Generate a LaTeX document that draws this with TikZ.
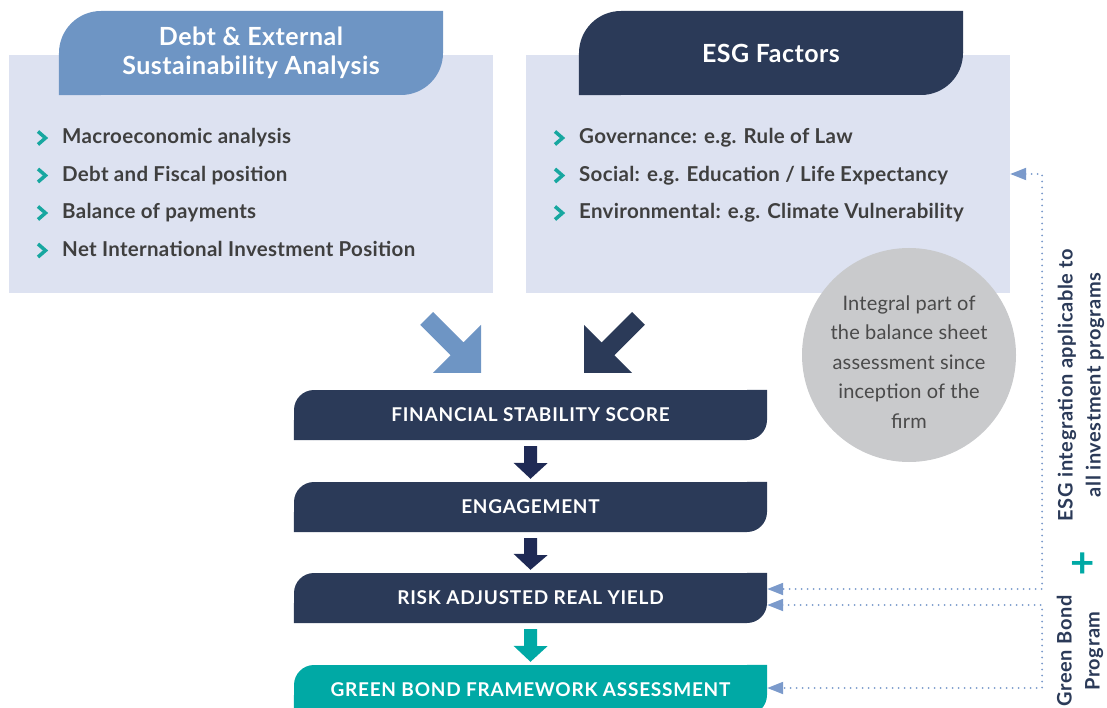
\documentclass[tikz,border=0pt]{standalone}
\usepackage{fontspec}
\setmainfont{Lato}
\usetikzlibrary{arrows.meta,calc}
\definecolor{panelblue}{HTML}{DDE2F1}
\definecolor{tabblue}{HTML}{6E95C4}
\definecolor{navy}{HTML}{2B3A58}
\definecolor{arrownavy}{HTML}{1F2A55}
\definecolor{teal}{HTML}{00A9A5}
\definecolor{chevteal}{HTML}{17A7A0}
\definecolor{circlegrey}{HTML}{C9CACC}
\definecolor{textgrey}{HTML}{3F3F3F}
\definecolor{notegrey}{HTML}{4A4A4A}
\definecolor{dotblue}{HTML}{7B9ACB}
% square off the top right and bottom left corners of a rounded node
\newcommand\sharpcorners[3]{\fill[#3] (#1.north east) rectangle ++(-#2,-#2) (#1.south west) rectangle ++(#2,#2);}
% block arrow from one stage to the next
\newcommand\flowarrow[3]{\fill[#3] ($(#1.south)+(-6.5,6)$) -- ++(13,0) -- ++(0,17) -- ++(10.5,0) -- ($(#2.north)+(0,-3)$) -- ++(-17,-16) -- ++(10.5,0) -- cycle;}
\begin{document}
\begin{tikzpicture}[x=1pt,y=-1pt,
  panel/.style={fill=panelblue, minimum width=484pt, minimum height=238pt, inner sep=0pt},
  tab/.style={rounded corners=42pt, minimum width=384pt, minimum height=84pt, inner sep=0pt, align=center, text=white, font=\fontsize{25}{29}\selectfont\bfseries\addfontfeatures{LetterSpace=2}},
  stage/.style={rounded corners=20pt, fill=navy, minimum width=473pt, minimum height=50pt, inner sep=0pt, text=white, font=\fontsize{19}{22}\selectfont\bfseries\addfontfeatures{LetterSpace=4}},
  item/.style={anchor=base west, inner sep=0pt, text=textgrey, font=\fontsize{20.5}{24}\selectfont\bfseries\addfontfeatures{LetterSpace=1.5}},
  chev/.style={draw=chevteal, line width=3.5pt},
  dotlink/.style={draw=dotblue, line width=2pt, line cap=round, dash pattern=on 0pt off 6pt, {Triangle[width=12pt,length=16pt]}-{Triangle[width=12pt,length=16pt]}},
  side/.style={rotate=90, align=center, inner sep=0pt, text=navy, font=\fontsize{20}{28}\selectfont\bfseries\addfontfeatures{LetterSpace=3}}]
  \useasboundingbox (0,0) rectangle (1107,708);

  \node[panel] (debtp) at (251,174) {};
  \node[panel] (esgp) at (768,174) {};
  \node[tab, fill=tabblue] (debt) at (251,53) {Debt \& External\\Sustainability Analysis};
  \sharpcorners{debt}{42pt}{tabblue}
  \node[tab, fill=navy] (esg) at (771,53) {ESG Factors};
  \sharpcorners{esg}{42pt}{navy}

  \foreach \txt [count=\i] in {Macroeconomic analysis, Debt and Fiscal position, Balance of payments, Net International Investment Position} {
    \node[item] (m\i) at (62,106.5+37.5*\i) {\txt};
    \draw[chev] ([shift={(-24pt,12.5pt)}]m\i.base west) -- ++(7.5pt,-6.5pt) -- ++(-7.5pt,-6.5pt);
  }
  \foreach \txt [count=\i] in {Governance: e.g. Rule of Law, Social: e.g. Education / Life Expectancy, Environmental: e.g. Climate Vulnerability} {
    \node[item] (g\i) at (579,106.5+37.5*\i) {\txt};
    \draw[chev] ([shift={(-24pt,12.5pt)}]g\i.base west) -- ++(7.5pt,-6.5pt) -- ++(-7.5pt,-6.5pt);
  }

  \node[stage] (fss) at (530.5,415) {FINANCIAL STABILITY SCORE};
  \sharpcorners{fss}{20pt}{navy}
  \node[stage] (eng) at (530.5,507) {ENGAGEMENT};
  \sharpcorners{eng}{20pt}{navy}
  \node[stage] (ray) at (530.5,598) {RISK ADJUSTED REAL YIELD};
  \sharpcorners{ray}{20pt}{navy}
  \node[stage, fill=teal] (gbf) at (530.5,690) {GREEN BOND FRAMEWORK ASSESSMENT};
  \sharpcorners{gbf}{20pt}{teal}

  \fill[tabblue] ($(fss.north)+(-49.5,-17)$) -- ++(0,-48) -- ++(-17.6,17.6) -- ++(-30.4,-30.4) -- ++(-12.8,12.8) -- ++(30.4,30.4) -- ++(-17.6,17.6) -- cycle;
  \fill[navy] ($(fss.north)+(53.5,-17)$) -- ++(0,-48) -- ++(17.6,17.6) -- ++(30.4,-30.4) -- ++(12.8,12.8) -- ++(-30.4,30.4) -- ++(17.6,17.6) -- cycle;
  \flowarrow{fss}{eng}{arrownavy}
  \flowarrow{eng}{ray}{arrownavy}
  \flowarrow{ray}{gbf}{teal}

  \node[circle, fill=circlegrey, minimum size=214pt, inner sep=0pt] (note) at (909,355) {};
  \node[align=center, inner sep=0pt, text=notegrey, font=\fontsize{20}{29.5}\selectfont\addfontfeatures{LetterSpace=1}] (notetext) at ([yshift=-7pt]note.center) {Integral part of\\the balance sheet\\assessment since\\inception of the\\firm};

  \draw[dotlink] (esgp.east) -- ++(32,0) |- ([yshift=9pt]ray.east);
  \draw[dotlink] ([yshift=-7pt]ray.east) -- ++(275,0) |- ([yshift=2pt]gbf.east);

  \node[side] (esgint) at (1081,385) {ESG integration applicable to\\all investment programs};
  \node[text=teal, font=\fontsize{42}{42}\selectfont\bfseries] (plus) at (1083,565) {+};
  \node[side] (gbp) at (1080,651) {Green Bond\\Program};
\end{tikzpicture}
\end{document}
